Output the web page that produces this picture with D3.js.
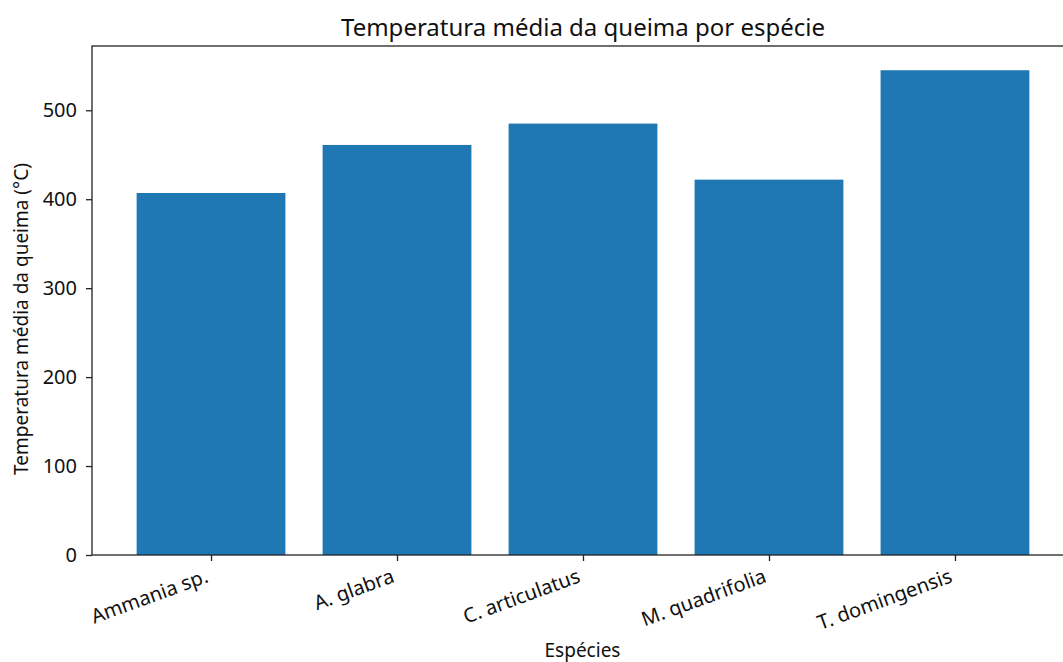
<!DOCTYPE html>
<html>
<head>
<meta charset="utf-8">
<script src="https://cdn.jsdelivr.net/npm/d3@7"></script>
<style>
  html, body { margin: 0; padding: 0; background: #fff; }
  svg { display: block; font-family: "Noto Sans", sans-serif; }
</style>
</head>
<body>
<svg id="chart" width="1063" height="662"></svg>
<script>
// Mean burn temperature per species
const species = ["Ammania sp.", "A. glabra", "C. articulatus", "M. quadrifolia", "T. domingensis"];
const temperatures = [407, 461, 485, 422, 545];
const yTicks = [0, 100, 200, 300, 400, 500];

const titleText = "Temperatura média da queima por espécie";
const xLabelText = "Espécies";
const yLabelText = "Temperatura média da queima (°C)";

const svg = d3.select("#chart");
const plot = { left: 92, top: 46, right: 1074, bottom: 555 };
const fontFamily = "Noto Sans";
const fontSize = 20;
const labelSize = 19;
const titleSize = 24;
const textColor = "#111";

// Linear x over category index, with 5% margin around the bars (width 0.8)
const barWidth = 0.8;
const xLo = -barWidth / 2, xHi = species.length - 1 + barWidth / 2;
const xPad = (xHi - xLo) * 0.05;
const x = d3.scaleLinear().domain([xLo - xPad, xHi + xPad]).range([plot.left, plot.right]);
const y = d3.scaleLinear().domain([0, d3.max(temperatures) * 1.05]).range([plot.bottom, plot.top]);

const barColor = "#1f77b4";

// Bars
svg.append("g").selectAll("rect").data(temperatures).join("rect")
  .attr("x", (d, i) => x(i - barWidth / 2))
  .attr("width", (d, i) => x(i + barWidth / 2) - x(i - barWidth / 2))
  .attr("y", d => y(d))
  .attr("height", d => y(0) - y(d))
  .attr("fill", barColor);

// Frame
svg.append("rect")
  .attr("x", plot.left).attr("y", plot.top)
  .attr("width", plot.right - plot.left).attr("height", plot.bottom - plot.top)
  .attr("fill", "none").attr("stroke", "#222").attr("stroke-width", 1.3);

// Y axis
const yAxis = d3.axisLeft(y).tickValues(yTicks).tickSize(6).tickPadding(9).tickFormat(d3.format("d"));
const gy = svg.append("g").attr("transform", `translate(${plot.left},0)`).call(yAxis);
gy.select(".domain").remove();
gy.selectAll(".tick line").attr("stroke", "#222").attr("stroke-width", 1.3);
gy.selectAll(".tick text").attr("font-size", fontSize).attr("fill", textColor)
  .attr("font-family", fontFamily);

// X axis
const xAxis = d3.axisBottom(x).tickValues(d3.range(species.length)).tickSize(6).tickFormat(i => species[i]);
const gx = svg.append("g").attr("transform", `translate(0,${plot.bottom})`).call(xAxis);
gx.select(".domain").remove();
gx.selectAll(".tick line").attr("stroke", "#222").attr("stroke-width", 1.3);

// Rotated tick labels, right-aligned so the rotated box ends at the tick
gx.selectAll(".tick text")
  .attr("font-size", fontSize).attr("fill", textColor).attr("font-family", fontFamily)
  .attr("text-anchor", "end").attr("dy", null).attr("y", 0).attr("x", 0)
  .attr("transform", "rotate(-20)")
  .each(function () {
    const node = this;
    const box = node.getBoundingClientRect();
    const ctm = node.parentNode.getScreenCTM();
    const dx = ctm.e - box.right;
    const dy = (ctm.f + 6 + 1) - box.top;
    d3.select(node).attr("transform", `translate(${dx},${dy}) rotate(-20)`);
  });

// Title and axis labels
svg.append("text")
  .attr("x", (plot.left + plot.right) / 2).attr("y", 36)
  .attr("text-anchor", "middle").attr("font-size", titleSize).attr("fill", textColor)
  .attr("font-family", fontFamily)
  .text(titleText);

svg.append("text")
  .attr("x", 582.5).attr("y", 657)
  .attr("text-anchor", "middle").attr("font-size", labelSize).attr("fill", textColor)
  .attr("font-family", fontFamily)
  .text(xLabelText);

svg.append("text")
  .attr("transform", `translate(28,319) rotate(-90)`)
  .attr("text-anchor", "middle").attr("font-size", labelSize).attr("fill", textColor)
  .attr("font-family", fontFamily)
  .text(yLabelText);
</script>
</body>
</html>
